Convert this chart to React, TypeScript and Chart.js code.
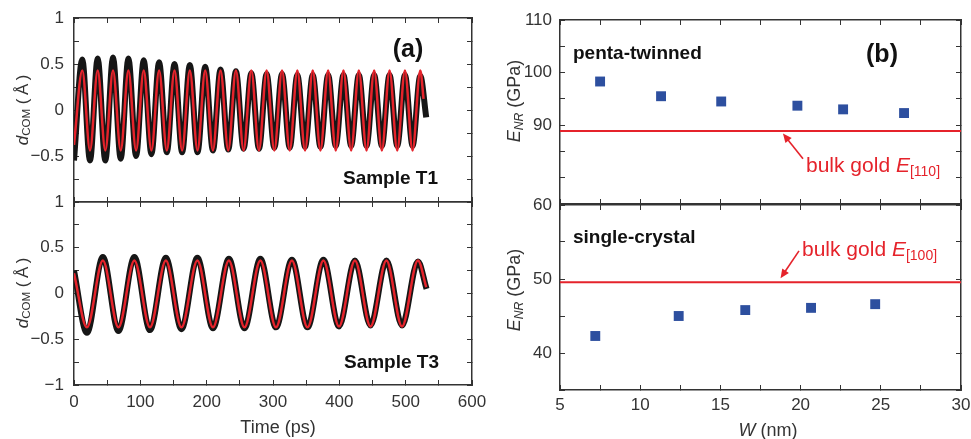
import React, { useEffect, useRef } from "react";
import { Chart, registerables } from "chart.js";
Chart.register(...registerables);

const FONT = "'Liberation Sans', Arial, Helvetica, sans-serif";
const AXIS = "#333333";
const TICKCOL = "#333333";
const RED = "#e5232b";
const BLUE = "#2d4f9f";

// ---------- Panel (a): Sample T1 (time in ps, d_COM in Å) ----------
const t1BlackTime = [0, 12.5, 24.1, 35.7, 47.2, 58.8, 70.4, 82.0, 93.6, 105.1, 116.7, 128.3, 139.9, 151.5, 163.0, 174.6, 186.2, 197.8, 209.4, 220.9, 232.5, 244.1, 255.7, 267.3, 278.8, 290.4, 302.0, 313.6, 325.2, 336.7, 348.3, 359.9, 371.5, 383.1, 394.6, 406.2, 417.8, 429.4, 441.0, 452.5, 464.1, 475.7, 487.3, 498.9, 510.4, 522.0, 531.0];
const t1BlackDisp = [-0.55, 0.55, -0.55, 0.56, -0.55, 0.57, -0.53, 0.56, -0.5, 0.54, -0.48, 0.52, -0.46, 0.5, -0.46, 0.49, -0.46, 0.47, -0.44, 0.44, -0.43, 0.42, -0.42, 0.4, -0.42, 0.39, -0.41, 0.39, -0.41, 0.38, -0.4, 0.38, -0.4, 0.38, -0.39, 0.38, -0.39, 0.38, -0.39, 0.38, -0.39, 0.38, -0.39, 0.38, -0.39, 0.37, -0.08];
const t1RedTime = [0, 12.5, 24.1, 35.7, 47.2, 58.8, 70.4, 82.0, 93.6, 105.1, 116.7, 128.3, 139.9, 151.5, 163.0, 174.6, 186.2, 197.8, 209.4, 220.9, 232.5, 244.1, 255.7, 267.3, 278.8, 290.4, 302.0, 313.6, 325.2, 336.7, 348.3, 359.9, 371.5, 383.1, 394.6, 406.2, 417.8, 429.4, 441.0, 452.5, 464.1, 475.7, 487.3, 498.9, 510.4, 522.0, 527.0];
const t1RedDisp = [-0.38, 0.43, -0.44, 0.43, -0.44, 0.43, -0.44, 0.43, -0.44, 0.43, -0.44, 0.43, -0.44, 0.43, -0.44, 0.43, -0.44, 0.43, -0.44, 0.43, -0.44, 0.43, -0.44, 0.43, -0.44, 0.43, -0.44, 0.43, -0.44, 0.43, -0.44, 0.43, -0.44, 0.43, -0.44, 0.43, -0.44, 0.43, -0.44, 0.43, -0.44, 0.43, -0.44, 0.43, -0.44, 0.43, 0.12];

// ---------- Panel (a): Sample T3 ----------
const t3BlackTime = [0, 19.5, 43.5, 67, 91, 114.5, 138.5, 162, 186, 209.5, 233.5, 257, 281, 304.5, 328.5, 352, 376, 399.5, 423.5, 447, 471, 494.5, 518.5, 531.5];
const t3BlackDisp = [0.25, -0.43, 0.4, -0.41, 0.4, -0.4, 0.39, -0.39, 0.39, -0.38, 0.38, -0.38, 0.38, -0.37, 0.37, -0.37, 0.37, -0.36, 0.36, -0.35, 0.36, -0.35, 0.35, 0.05];
const t3RedTime = [0, 19.5, 43.5, 67, 91, 114.5, 138.5, 162, 186, 209.5, 233.5, 257, 281, 304.5, 328.5, 352, 376, 399.5, 423.5, 447, 471, 494.5, 518.5, 531.0];
const t3RedDisp = [0.22, -0.37, 0.36, -0.37, 0.36, -0.37, 0.36, -0.37, 0.36, -0.37, 0.36, -0.37, 0.36, -0.37, 0.36, -0.37, 0.36, -0.36, 0.36, -0.36, 0.36, -0.36, 0.36, 0.07];

const timeLabelValues = [0, 100, 200, 300, 400, 500, 600];
const dispLabelsTop: Record<string, string> = { "1": "1", "0.5": "0.5", "0": "0", "-0.5": "\u22120.5" };
const dispLabelsBottom: Record<string, string> = { "1": "1", "0.5": "0.5", "0": "0", "-0.5": "\u22120.5", "-1": "\u22121" };

// ---------- Panel (b) ----------
const pentaW = [7.5, 11.3, 15.05, 19.8, 22.65, 26.45];
const pentaE = [98.3, 95.5, 94.5, 93.7, 93.0, 92.3];
const singleW = [7.2, 12.4, 16.55, 20.65, 24.65];
const singleE = [42.3, 45.0, 45.8, 46.1, 46.6];
const bulkE110 = 88.9;
const bulkE100 = 49.55;
const wLabelValues = [5, 10, 15, 20, 25, 30];
const eLabelsTop = [90, 100, 110];
const eLabelsBottom = [40, 50, 60];

// annotation arrows (data coordinates of tail and head)
const arrow110 = { fromW: 20.15, fromE: 83.6, toW: 18.9, toE: 88.4 };
const arrow100 = { fromW: 19.9, fromE: 53.8, toW: 18.75, toE: 50.1 };

const pts = (xs: number[], ys: number[]) => xs.map((x, i) => ({ x, y: ys[i] }));

function axis(o: {
  position: string; min: number; max: number; step: number; size: number;
  label?: (v: number) => string; padding?: number;
}) {
  const horizontal = o.position === "top" || o.position === "bottom";
  return {
    type: "linear",
    position: o.position,
    min: o.min,
    max: o.max,
    afterFit: (s: any) => {
      if (horizontal) s.height = o.size; else s.width = o.size;
      s.paddingLeft = 0; s.paddingRight = 0; s.paddingTop = 0; s.paddingBottom = 0;
    },
    ticks: {
      stepSize: o.step,
      autoSkip: false,
      maxRotation: 0,
      display: !!o.label,
      callback: o.label ? (v: any) => o.label!(Number(v)) : () => "",
      font: { family: FONT, size: 17 },
      color: TICKCOL,
      padding: o.padding ?? 10,
    },
    grid: { drawOnChartArea: false, drawTicks: true, tickLength: -5, tickColor: AXIS, tickWidth: 1 },
    border: { display: true, color: AXIS, width: 1.5 },
  };
}

const near = (v: number, arr: number[]) => arr.some((a) => Math.abs(a - v) < 1e-6);

function arrowPlugin(a: { fromW: number; fromE: number; toW: number; toE: number }) {
  return {
    id: "arrow",
    afterDatasetsDraw(chart: any) {
      const xs = chart.scales.x, ys = chart.scales.y, ctx = chart.ctx;
      const x1 = xs.getPixelForValue(a.fromW), y1 = ys.getPixelForValue(a.fromE);
      const x2 = xs.getPixelForValue(a.toW), y2 = ys.getPixelForValue(a.toE);
      const ang = Math.atan2(y2 - y1, x2 - x1);
      const L = 9, H = 4;
      ctx.save();
      ctx.strokeStyle = RED; ctx.fillStyle = RED; ctx.lineWidth = 1.6;
      ctx.beginPath(); ctx.moveTo(x1, y1);
      ctx.lineTo(x2 - Math.cos(ang) * L * 0.8, y2 - Math.sin(ang) * L * 0.8); ctx.stroke();
      ctx.beginPath(); ctx.moveTo(x2, y2);
      ctx.lineTo(x2 - Math.cos(ang) * L + Math.sin(ang) * H, y2 - Math.sin(ang) * L - Math.cos(ang) * H);
      ctx.lineTo(x2 - Math.cos(ang) * L - Math.sin(ang) * H, y2 - Math.sin(ang) * L + Math.cos(ang) * H);
      ctx.closePath(); ctx.fill();
      ctx.restore();
    },
  };
}

function lineDs(data: any[], color: string, width: number, order: number) {
  return {
    data, borderColor: color, backgroundColor: color, borderWidth: width, order,
    pointRadius: 0, cubicInterpolationMode: "monotone", fill: false, showLine: true,
  };
}

function baseOptions(scales: any) {
  return {
    animation: false, responsive: false, maintainAspectRatio: false,
    layout: { padding: 0 },
    plugins: { legend: { display: false }, tooltip: { enabled: false } },
    events: [],
    scales,
  };
}

function configA1() {
  return {
    type: "line",
    data: { datasets: [lineDs(pts(t1BlackTime, t1BlackDisp), "#161616", 6, 2), lineDs(pts(t1RedTime, t1RedDisp), RED, 2.5, 1)] },
    options: baseOptions({
      x: axis({ position: "bottom", min: 0, max: 600, step: 50, size: 8 }),
      x2: axis({ position: "top", min: 0, max: 600, step: 50, size: 18 }),
      y: axis({ position: "left", min: -1, max: 1, step: 0.25, size: 74, padding: 15, label: (v) => dispLabelsTop[String(v)] ?? "" }),
      y2: axis({ position: "right", min: -1, max: 1, step: 0.25, size: 18 }),
    }),
  };
}

function configB1() {
  return {
    type: "line",
    data: { datasets: [lineDs(pts(t3BlackTime, t3BlackDisp), "#161616", 6, 2), lineDs(pts(t3RedTime, t3RedDisp), RED, 2.5, 1)] },
    options: baseOptions({
      x: axis({ position: "bottom", min: 0, max: 600, step: 50, size: 54, padding: 12, label: (v) => (near(v, timeLabelValues) ? String(v) : "") }),
      x2: axis({ position: "top", min: 0, max: 600, step: 50, size: 12 }),
      y: axis({ position: "left", min: -1, max: 1, step: 0.25, size: 74, padding: 15, label: (v) => dispLabelsBottom[String(v)] ?? "" }),
      y2: axis({ position: "right", min: -1, max: 1, step: 0.25, size: 18 }),
    }),
  };
}

function markerDs(data: any[]) {
  return { data, order: 0, showLine: false, pointStyle: "rect", pointRadius: 7, backgroundColor: BLUE, borderColor: BLUE, borderWidth: 0 };
}

function configA2() {
  return {
    type: "line",
    data: {
      datasets: [
        lineDs([{ x: 5, y: bulkE110 }, { x: 30, y: bulkE110 }], RED, 2, 1),
        markerDs(pts(pentaW, pentaE)),
      ],
    },
    options: baseOptions({
      x: axis({ position: "bottom", min: 5, max: 30, step: 2.5, size: 8 }),
      x2: axis({ position: "top", min: 5, max: 30, step: 2.5, size: 20 }),
      y: axis({ position: "left", min: 75, max: 110, step: 5, size: 70, padding: 13, label: (v) => (near(v, eLabelsTop) ? String(v) : "") }),
      y2: axis({ position: "right", min: 75, max: 110, step: 5, size: 10 }),
    }),
    plugins: [arrowPlugin(arrow110)],
  };
}

function configB2() {
  return {
    type: "line",
    data: {
      datasets: [
        lineDs([{ x: 5, y: bulkE100 }, { x: 30, y: bulkE100 }], RED, 2, 1),
        markerDs(pts(singleW, singleE)),
      ],
    },
    options: baseOptions({
      x: axis({ position: "bottom", min: 5, max: 30, step: 2.5, size: 49, padding: 10, label: (v) => (near(v, wLabelValues) ? String(v) : "") }),
      x2: axis({ position: "top", min: 5, max: 30, step: 2.5, size: 12 }),
      y: axis({ position: "left", min: 35, max: 60, step: 5, size: 70, padding: 13, label: (v) => (near(v, eLabelsBottom) ? String(v) : "") }),
      y2: axis({ position: "right", min: 35, max: 60, step: 5, size: 10 }),
    }),
    plugins: [arrowPlugin(arrow100)],
  };
}

function Panel(p: { left: number; top: number; width: number; height: number; make: () => any }) {
  const ref = useRef<HTMLCanvasElement | null>(null);
  useEffect(() => {
    const chart = new Chart(ref.current as HTMLCanvasElement, p.make() as any);
    return () => chart.destroy();
  }, []);
  return (
    <canvas
      ref={ref}
      width={p.width}
      height={p.height}
      style={{ position: "absolute", left: p.left, top: p.top, width: p.width, height: p.height }}
    />
  );
}

function Txt(p: { x: number; y: number; children: any; style?: any; anchor?: "center" | "left"; rotate?: boolean }) {
  const tx = p.anchor === "left" ? "0" : "-50%";
  return (
    <div
      style={{
        position: "absolute", left: p.x, top: p.y, whiteSpace: "nowrap", lineHeight: 1,
        fontFamily: FONT, color: "#333",
        transform: `translate(${tx}, -50%)${p.rotate ? " rotate(-90deg)" : ""}`,
        transformOrigin: p.rotate ? "50% 50%" : undefined,
        ...p.style,
      }}
    >
      {p.children}
    </div>
  );
}

const subStyle = { fontSize: "0.68em", verticalAlign: "-0.25em", lineHeight: 0 };

function DLabel() {
  return (
    <span style={{ fontSize: 17 }}>
      <i>d</i><span style={subStyle}>COM</span> (&thinsp;Å&thinsp;)
    </span>
  );
}
function ELabel() {
  return (
    <span style={{ fontSize: 18 }}>
      <i>E</i><span style={{ ...subStyle, fontStyle: "italic" }}>NR</span> (GPa)
    </span>
  );
}

export default function App() {
  const bold = { fontWeight: "bold", color: "#111" };
  const redTxt = { color: RED, fontSize: 21 };
  return (
    <div style={{ position: "absolute", left: 0, top: 0, width: 971, height: 439, background: "#fff", overflow: "hidden" }}>
      <Panel left={0} top={0} width={490} height={210} make={configA1} />
      <Panel left={0} top={190} width={490} height={249} make={configB1} />
      <Panel left={490} top={0} width={481} height={212} make={configA2} />
      <Panel left={490} top={193} width={481} height={246} make={configB2} />

      <Txt x={22} y={110} rotate><DLabel /></Txt>
      <Txt x={22} y={293} rotate><DLabel /></Txt>
      <Txt x={278} y={427} style={{ fontSize: 18 }}>Time (ps)</Txt>
      <Txt x={408} y={48} style={{ ...bold, fontSize: 25 }}>(a)</Txt>
      <Txt x={390.5} y={177} style={{ ...bold, fontSize: 19 }}>Sample T1</Txt>
      <Txt x={391.5} y={361} style={{ ...bold, fontSize: 19 }}>Sample T3</Txt>

      <Txt x={514} y={101} rotate><ELabel /></Txt>
      <Txt x={514} y={290} rotate><ELabel /></Txt>
      <Txt x={768} y={430} style={{ fontSize: 18 }}><i>W</i> (nm)</Txt>
      <Txt x={882} y={53} style={{ ...bold, fontSize: 25 }}>(b)</Txt>
      <Txt x={573} y={52} anchor="left" style={{ ...bold, fontSize: 19 }}>penta-twinned</Txt>
      <Txt x={573} y={236} anchor="left" style={{ ...bold, fontSize: 19 }}>single-crystal</Txt>
      <Txt x={806} y={164} anchor="left" style={redTxt}>
        bulk gold <i>E</i><span style={{ fontSize: 14, verticalAlign: "-0.35em", lineHeight: 0 }}>[110]</span>
      </Txt>
      <Txt x={802} y={248} anchor="left" style={redTxt}>
        bulk gold <i>E</i><span style={{ fontSize: 14, verticalAlign: "-0.35em", lineHeight: 0 }}>[100]</span>
      </Txt>
    </div>
  );
}
